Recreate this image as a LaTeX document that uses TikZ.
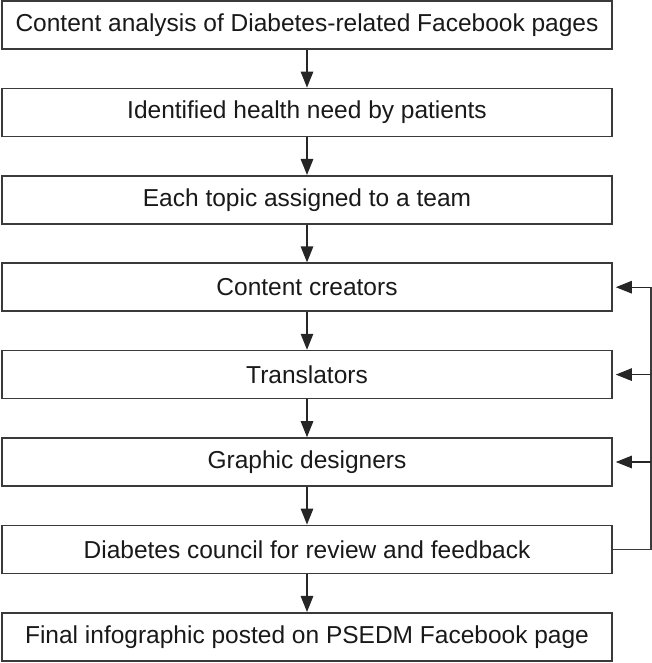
\documentclass[tikz,border=0pt]{standalone}
\usepackage{fontspec}
\setmainfont{Liberation Sans}
\usetikzlibrary{arrows.meta}
\definecolor{linec}{HTML}{3A3A3A}
\begin{document}
\begin{tikzpicture}[x=1pt,y=1pt,
  box/.style={draw=linec,line width=1.6pt,minimum width=610pt,minimum height=48pt,inner sep=0pt,anchor=center,font=\fontsize{24.5}{28}\selectfont,text=black!90},
  arr/.style={draw=black!85,line width=1.3pt,-{Triangle[length=16pt,width=12.5pt]}},
  fb/.style={draw=linec,line width=1.3pt}]
\useasboundingbox (0,0) rectangle (652,663);
\foreach \i/\t/\n in {0/{Content analysis of Diabetes-related Facebook pages}/b1,
  1/{Identified health need by patients}/b2,
  2/{Each topic assigned to a team}/b3,
  3/{Content creators}/b4,
  4/{Translators}/b5,
  5/{Graphic designers}/b6,
  6/{Diabetes council for review and feedback}/b7,
  7/{Final infographic posted on PSEDM Facebook page}/b8}{
  \node[box] (\n) at (307,{663-25-87.4*\i}) {\t};
}
\draw[arr] (b1.south) -- (b2.north);
\draw[arr] (b2.south) -- (b3.north);
\draw[arr] (b3.south) -- (b4.north);
\draw[arr] (b4.south) -- (b5.north);
\draw[arr] (b5.south) -- (b6.north);
\draw[arr] (b6.south) -- (b7.north);
\draw[arr] (b7.south) -- (b8.north);
\coordinate (fbx) at (651,0);
\draw[fb] (b7.east) -- (b7.east -| fbx) -- (b4.east -| fbx);
\draw[arr] (b4.east -| fbx) -- ([xshift=3pt]b4.east);
\draw[arr] (b5.east -| fbx) -- ([xshift=3pt]b5.east);
\draw[arr] (b6.east -| fbx) -- ([xshift=3pt]b6.east);
\end{tikzpicture}
\end{document}
